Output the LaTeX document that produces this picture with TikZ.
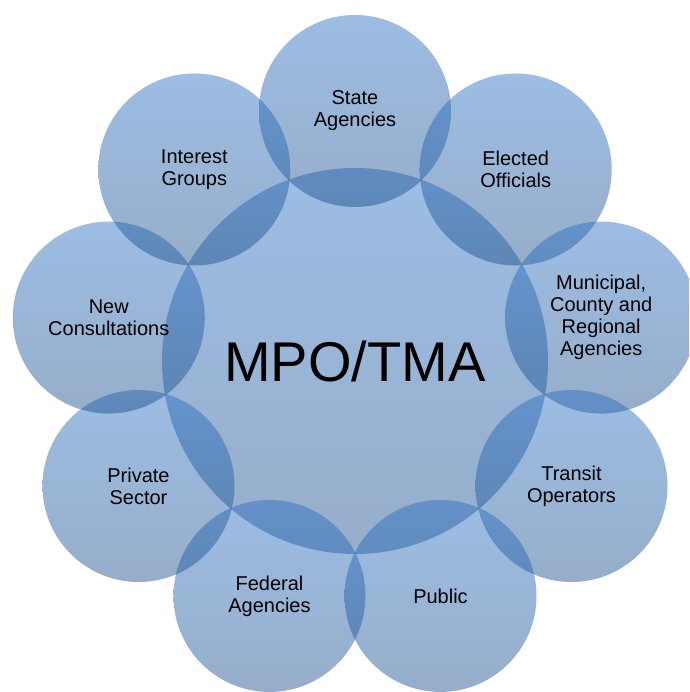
\documentclass[tikz,border=0pt]{standalone}
\usepackage{fontspec}
\setmainfont{Liberation Sans}
\definecolor{ringtop}{RGB}{37,108,195}
\definecolor{ringbot}{RGB}{22,74,136}

\begin{document}
\begin{tikzpicture}[x=1pt, y=1pt,
	hub/.style={circle, minimum size=386pt, inner sep=0pt, top color=ringtop, bottom color=ringbot, fill opacity=0.45, text opacity=1, font=\fontsize{56}{60}\selectfont},
	spoke/.style={circle, minimum size=192pt, inner sep=0pt, top color=ringtop, bottom color=ringbot, fill opacity=0.45, text opacity=1, align=center, font=\fontsize{20}{22}\selectfont}]
		%%%%% START %%%%%
		
		\useasboundingbox (-355, -331) rectangle (334, 361);
		\clip (-355, -331) rectangle (334, 361);
		
		\node[hub] (mpo) at (0, 0) {MPO/TMA};
		
		\node[spoke] (state) at (90:250) {State\\Agencies};
		\node[spoke] (elected) at (50:250) {Elected\\Officials};
		\node[spoke] (municipal) at (10:250) {Municipal,\\County and\\Regional\\Agencies};
		\node[spoke] (transit) at (-30:250) {Transit\\Operators};
		\node[spoke] (public) at (-70:250) {Public};
		\node[spoke] (federal) at (-110:250) {Federal\\Agencies};
		\node[spoke] (private) at (-150:250) {Private\\Sector};
		\node[spoke] (consult) at (170:250) {New\\Consultations};
		\node[spoke] (interest) at (130:250) {Interest\\Groups};
		
		%%%%% END %%%%%
\end{tikzpicture}
\end{document}
